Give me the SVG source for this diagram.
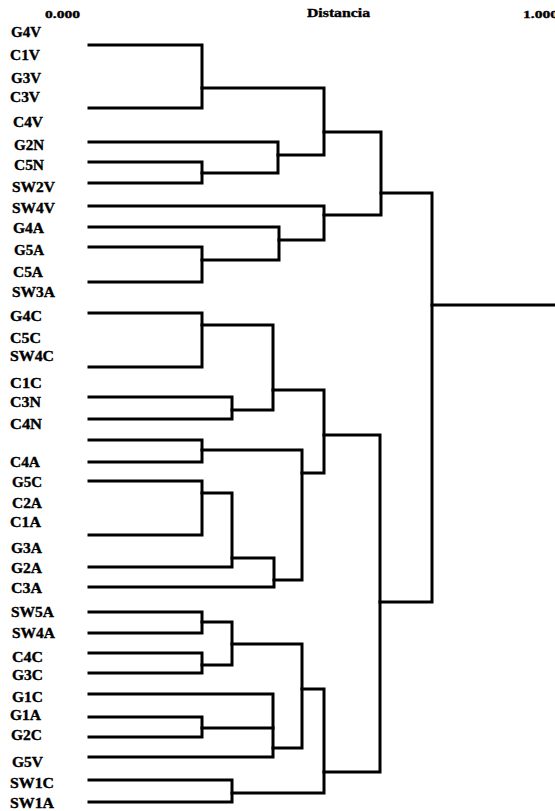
<svg xmlns="http://www.w3.org/2000/svg" width="555" height="811" viewBox="0 0 555 811">
  <style>
    text { font-family: "Liberation Serif", "Times New Roman", serif; font-weight: bold; fill: #000; stroke: #000; stroke-width: 0.35; }
    .hdr { font-size: 11px; }
    .ttl { font-size: 12px; }
    .lbl { font-size: 14px; }
    .tree path { fill: none; stroke: #000; stroke-width: 3; stroke-linejoin: miter; stroke-linecap: square; }
  </style>
  <rect width="555" height="811" fill="#fff"/>

  <!-- axis header -->
  <g id="axis">
    <text class="hdr" x="45" y="18" textLength="35" lengthAdjust="spacingAndGlyphs">0.000</text>
    <text class="ttl" x="307" y="17" textLength="63" lengthAdjust="spacingAndGlyphs">Distancia</text>
    <text class="hdr" x="523" y="18" textLength="35" lengthAdjust="spacingAndGlyphs">1.000</text>
  </g>

  <!-- leaf labels -->
  <g id="leaves">
    <g id="G4V"><text class="lbl" x="11" y="37" textLength="30" lengthAdjust="spacingAndGlyphs">G4V</text></g>
    <g id="C1V"><text class="lbl" x="10" y="60" textLength="30" lengthAdjust="spacingAndGlyphs">C1V</text></g>
    <g id="G3V"><text class="lbl" x="11" y="83" textLength="30" lengthAdjust="spacingAndGlyphs">G3V</text></g>
    <g id="C3V"><text class="lbl" x="10" y="102" textLength="30" lengthAdjust="spacingAndGlyphs">C3V</text></g>
    <g id="C4V"><text class="lbl" x="13" y="127" textLength="30" lengthAdjust="spacingAndGlyphs">C4V</text></g>
    <g id="G2N"><text class="lbl" x="14" y="150" textLength="30" lengthAdjust="spacingAndGlyphs">G2N</text></g>
    <g id="C5N"><text class="lbl" x="14" y="170" textLength="30" lengthAdjust="spacingAndGlyphs">C5N</text></g>
    <g id="SW2V"><text class="lbl" x="12" y="192" textLength="43" lengthAdjust="spacingAndGlyphs">SW2V</text></g>
    <g id="SW4V"><text class="lbl" x="12" y="213" textLength="43" lengthAdjust="spacingAndGlyphs">SW4V</text></g>
    <g id="G4A"><text class="lbl" x="13" y="233" textLength="31" lengthAdjust="spacingAndGlyphs">G4A</text></g>
    <g id="G5A"><text class="lbl" x="14" y="255" textLength="30" lengthAdjust="spacingAndGlyphs">G5A</text></g>
    <g id="C5A"><text class="lbl" x="13" y="277" textLength="30" lengthAdjust="spacingAndGlyphs">C5A</text></g>
    <g id="SW3A"><text class="lbl" x="12" y="297" textLength="43" lengthAdjust="spacingAndGlyphs">SW3A</text></g>
    <g id="G4C"><text class="lbl" x="10" y="321" textLength="32" lengthAdjust="spacingAndGlyphs">G4C</text></g>
    <g id="C5C"><text class="lbl" x="10" y="343" textLength="31" lengthAdjust="spacingAndGlyphs">C5C</text></g>
    <g id="SW4C"><text class="lbl" x="10" y="361" textLength="44" lengthAdjust="spacingAndGlyphs">SW4C</text></g>
    <g id="C1C"><text class="lbl" x="10" y="388" textLength="32" lengthAdjust="spacingAndGlyphs">C1C</text></g>
    <g id="C3N"><text class="lbl" x="10" y="407" textLength="31" lengthAdjust="spacingAndGlyphs">C3N</text></g>
    <g id="C4N"><text class="lbl" x="10" y="429" textLength="32" lengthAdjust="spacingAndGlyphs">C4N</text></g>
    <g id="C4A"><text class="lbl" x="10" y="467" textLength="30" lengthAdjust="spacingAndGlyphs">C4A</text></g>
    <g id="G5C"><text class="lbl" x="12" y="487" textLength="30" lengthAdjust="spacingAndGlyphs">G5C</text></g>
    <g id="C2A"><text class="lbl" x="12" y="508" textLength="30" lengthAdjust="spacingAndGlyphs">C2A</text></g>
    <g id="C1A"><text class="lbl" x="10" y="527" textLength="31" lengthAdjust="spacingAndGlyphs">C1A</text></g>
    <g id="G3A"><text class="lbl" x="11" y="553" textLength="31" lengthAdjust="spacingAndGlyphs">G3A</text></g>
    <g id="G2A"><text class="lbl" x="11" y="573" textLength="31" lengthAdjust="spacingAndGlyphs">G2A</text></g>
    <g id="C3A"><text class="lbl" x="11" y="593" textLength="31" lengthAdjust="spacingAndGlyphs">C3A</text></g>
    <g id="SW5A"><text class="lbl" x="11" y="617" textLength="43" lengthAdjust="spacingAndGlyphs">SW5A</text></g>
    <g id="SW4A"><text class="lbl" x="12" y="638" textLength="43" lengthAdjust="spacingAndGlyphs">SW4A</text></g>
    <g id="C4C"><text class="lbl" x="12" y="662" textLength="31" lengthAdjust="spacingAndGlyphs">C4C</text></g>
    <g id="G3C"><text class="lbl" x="12" y="680" textLength="31" lengthAdjust="spacingAndGlyphs">G3C</text></g>
    <g id="G1C"><text class="lbl" x="12" y="702" textLength="31" lengthAdjust="spacingAndGlyphs">G1C</text></g>
    <g id="G1A"><text class="lbl" x="10" y="720" textLength="31" lengthAdjust="spacingAndGlyphs">G1A</text></g>
    <g id="G2C"><text class="lbl" x="11" y="740" textLength="31" lengthAdjust="spacingAndGlyphs">G2C</text></g>
    <g id="G5V"><text class="lbl" x="12" y="767" textLength="31" lengthAdjust="spacingAndGlyphs">G5V</text></g>
    <g id="SW1C"><text class="lbl" x="10" y="788" textLength="44" lengthAdjust="spacingAndGlyphs">SW1C</text></g>
    <g id="SW1A"><text class="lbl" x="10" y="808" textLength="44" lengthAdjust="spacingAndGlyphs">SW1A</text></g>
  </g>

  <!-- dendrogram links -->
  <g id="connectors" class="tree">
    <!-- upper block -->
    <path d="M89 45 H202 V108 H89"/>
    <path d="M202 88 H324 V155 H278"/>
    <path d="M89 142 H278 V173 H202"/>
    <path d="M89 162 H202 V183 H89"/>
    <path d="M324 132 H381 V215 H324"/>
    <path d="M89 206 H324 V240 H279"/>
    <path d="M89 227 H279 V260 H202"/>
    <path d="M89 247 H202 V282 H89"/>
    <!-- middle block -->
    <path d="M89 313 H202 V367 H89"/>
    <path d="M202 325 H273 V410 H232"/>
    <path d="M89 397 H232 V419 H89"/>
    <path d="M273 390 H324 V473 H302"/>
    <path d="M89 440 H202 V462 H89"/>
    <path d="M202 450 H302 V580 H274"/>
    <path d="M89 481 H202 V535 H89"/>
    <path d="M202 493 H232 V567 H89"/>
    <path d="M232 558 H274 V587 H89"/>
    <!-- lower block -->
    <path d="M89 612 H202 V633 H89"/>
    <path d="M202 622 H232 V665 H202"/>
    <path d="M89 653 H202 V673 H89"/>
    <path d="M232 644 H302 V748 H273"/>
    <path d="M89 694 H273 V757 H89"/>
    <path d="M202 728 H273"/>
    <path d="M89 717 H202 V737 H89"/>
    <path d="M302 689 H324 V793 H232"/>
    <path d="M89 780 H232 V802 H89"/>
    <!-- top-level joins -->
    <path d="M324 435 H380 V772 H324"/>
    <path d="M381 193 H432 V602 H380"/>
    <path d="M432 305 H555"/>
  </g>
</svg>
